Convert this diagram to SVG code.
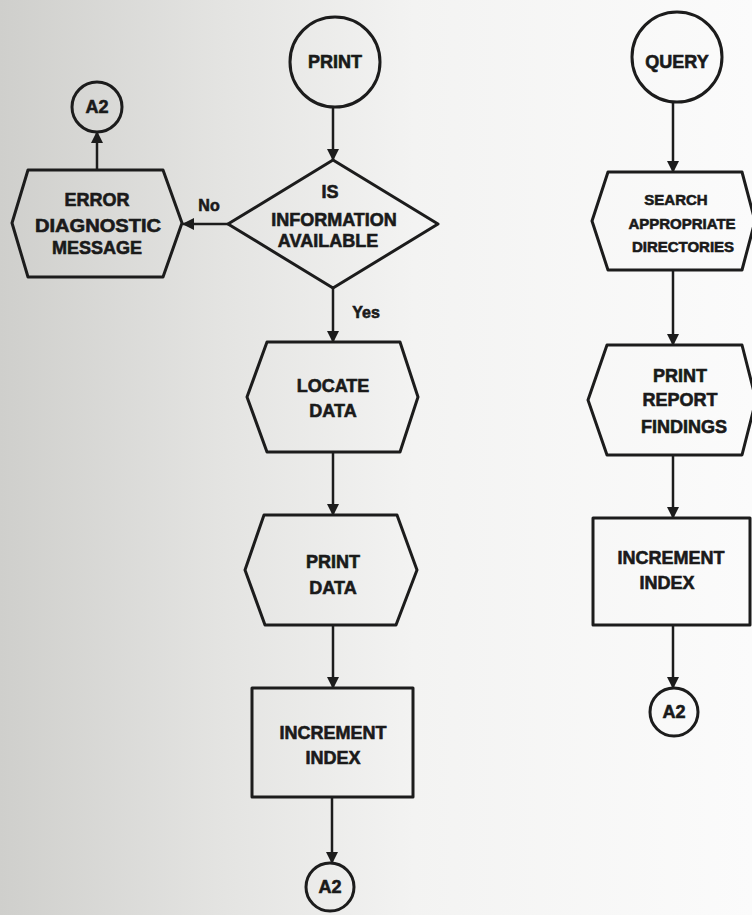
<svg xmlns="http://www.w3.org/2000/svg" width="752" height="915" viewBox="0 0 752 915">
  <defs>
    <linearGradient id="bg" x1="0" y1="0" x2="1" y2="0">
      <stop offset="0" stop-color="#cfcfcc"/>
      <stop offset="0.3" stop-color="#e4e4e2"/>
      <stop offset="0.55" stop-color="#f3f3f2"/>
      <stop offset="1" stop-color="#fbfbfb"/>
    </linearGradient>
    <marker id="arr" markerUnits="userSpaceOnUse" markerWidth="12" markerHeight="12" refX="11" refY="6" orient="auto">
      <path d="M0,0 L12,6 L0,12 z" fill="#1c1c1c"/>
    </marker>
    <style>
      .shape { fill: none; stroke: #1c1c1c; stroke-width: 3; stroke-linejoin: round; }
      .conn { fill: none; stroke: #1c1c1c; stroke-width: 2.5; marker-end: url(#arr); }
      text { font-family: "Liberation Sans", Arial, sans-serif; font-weight: bold; fill: #1a1a1a; stroke: #1a1a1a; stroke-width: 0.6; text-anchor: middle; font-size: 18px; }
      .small { font-size: 15px; }
      .lbl { font-size: 16px; }
    </style>
  </defs>
  <rect x="0" y="0" width="752" height="915" fill="url(#bg)"/>

  <g id="connectors">
    <line class="conn" x1="333" y1="107" x2="333" y2="160"/>
    <line class="conn" x1="228" y1="224" x2="183" y2="224"/>
    <line class="conn" x1="97" y1="170" x2="97" y2="132"/>
    <line class="conn" x1="333" y1="288" x2="333" y2="342"/>
    <line class="conn" x1="333" y1="452" x2="333" y2="515"/>
    <line class="conn" x1="333" y1="625" x2="333" y2="688"/>
    <line class="conn" x1="332" y1="797" x2="332" y2="863"/>
    <line class="conn" x1="673" y1="102" x2="673" y2="172"/>
    <line class="conn" x1="673" y1="270" x2="673" y2="345"/>
    <line class="conn" x1="673" y1="455" x2="673" y2="518"/>
    <line class="conn" x1="673" y1="625" x2="673" y2="688"/>
    <text class="lbl" x="209" y="211">No</text>
    <text class="lbl" x="366" y="318">Yes</text>
  </g>

  <g id="print-start">
    <circle class="shape" cx="335" cy="62" r="45"/>
    <text x="335" y="68">PRINT</text>
  </g>

  <g id="decision">
    <polygon class="shape" points="333,160 438,224 333,288 228,224"/>
    <text x="330" y="198">IS</text>
    <text x="334" y="226">INFORMATION</text>
    <text x="328" y="247">AVAILABLE</text>
  </g>

  <g id="error-message">
    <polygon class="shape" points="28,170 163,170 182,223 163,277 28,277 12,223"/>
    <text x="97" y="206" font-size="17">ERROR</text>
    <text x="98" y="232" font-size="17" textLength="126" lengthAdjust="spacingAndGlyphs">DIAGNOSTIC</text>
    <text x="97" y="254" font-size="17">MESSAGE</text>
  </g>

  <g id="a2-error">
    <circle class="shape" cx="97" cy="107" r="25"/>
    <text x="97" y="113" font-size="16">A2</text>
  </g>

  <g id="locate-data">
    <polygon class="shape" points="267,342 400,342 418,397 400,452 267,452 247,397"/>
    <text x="333" y="392">LOCATE</text>
    <text x="333" y="417">DATA</text>
  </g>

  <g id="print-data">
    <polygon class="shape" points="264,515 397,515 417,570 396,625 265,625 245,570"/>
    <text x="333" y="568">PRINT</text>
    <text x="333" y="594">DATA</text>
  </g>

  <g id="increment-left">
    <rect class="shape" x="252" y="688" width="161" height="109"/>
    <text x="333" y="739">INCREMENT</text>
    <text x="333" y="764">INDEX</text>
  </g>

  <g id="a2-left">
    <circle class="shape" cx="330" cy="887" r="24"/>
    <text x="330" y="893" font-size="16">A2</text>
  </g>

  <g id="query-start">
    <circle class="shape" cx="677" cy="57" r="45"/>
    <text x="677" y="68">QUERY</text>
  </g>

  <g id="search-directories">
    <polygon class="shape" points="608,172 742,172 755,221 742,270 608,270 592,221"/>
    <text class="small" x="676" y="205">SEARCH</text>
    <text class="small" x="682" y="229">APPROPRIATE</text>
    <text class="small" x="683" y="252">DIRECTORIES</text>
  </g>

  <g id="print-report">
    <polygon class="shape" points="607,345 742,345 756,400 742,455 607,455 588,400"/>
    <text x="680" y="382">PRINT</text>
    <text x="680" y="406">REPORT</text>
    <text x="684" y="433">FINDINGS</text>
  </g>

  <g id="increment-right">
    <rect class="shape" x="593" y="518" width="157" height="107"/>
    <text x="671" y="564">INCREMENT</text>
    <text x="667" y="589">INDEX</text>
  </g>

  <g id="a2-right">
    <circle class="shape" cx="674" cy="712" r="24"/>
    <text x="674" y="718" font-size="16">A2</text>
  </g>
</svg>
